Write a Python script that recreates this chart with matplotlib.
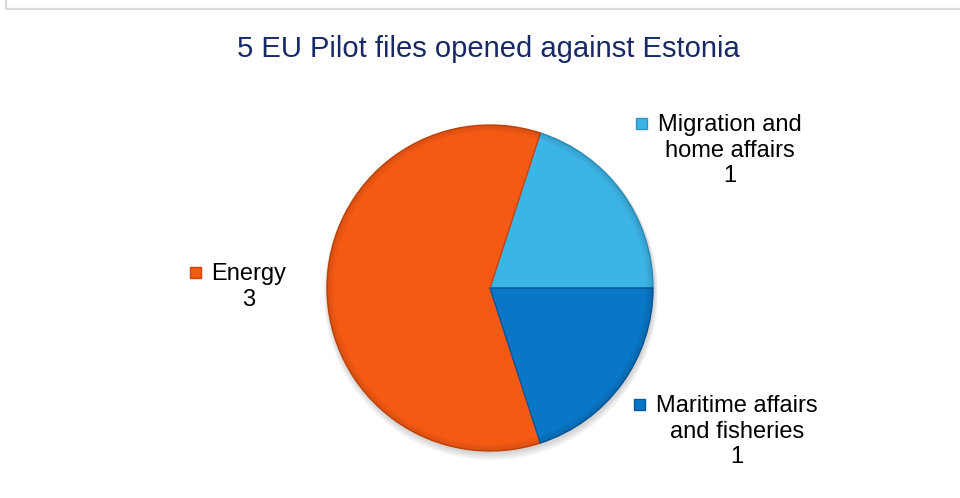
import matplotlib.pyplot as plt
from matplotlib.patches import Rectangle, Circle, Wedge

plt.rcParams['font.family'] = ['Liberation Sans', 'DejaVu Sans']

# data (drawn counter-clockwise from 3 o'clock)
categories = ["Migration and home affairs", "Energy", "Maritime affairs and fisheries"]
values = [1, 3, 1]
colors = ["#3db4e6", "#f55a14", "#0a76c6"]
edge_colors = ["#2a94c4", "#c8460c", "#07599a"]
# how each label wraps
label_lines = [["Migration and", "home affairs"], ["Energy"], ["Maritime affairs", "and fisheries"]]
title = "5 EU Pilot files opened against Estonia"

W, H = 960, 498
fig = plt.figure(figsize=(W / 100, H / 100), dpi=100)
ax = fig.add_axes([0, 0, 1, 1])

def iy(y):
    # image row -> data y
    return H - y

# chart frame (only top/left visible)
ax.plot([5.5, 5.5, W + 5], [H + 5, iy(8.5), iy(8.5)], color="#d9d9d9", lw=1.6,
        solid_capstyle='butt')

cx, cy, r = 490, iy(288), 163

# soft shadow
for k in range(4):
    ax.add_patch(Circle((cx + 1, cy - 2 - k), r + 1 + k, color="black", alpha=0.045,
                        lw=0, zorder=1))

wedges, _ = ax.pie(values, colors=colors, startangle=0, counterclock=True,
                   center=(cx, cy), radius=r, frame=True,
                   wedgeprops=dict(linewidth=1.0))
for w, ec in zip(wedges, edge_colors):
    w.set_edgecolor(ec)
    w.set_zorder(2)

# bevel: darken towards the rim
for k in range(7):
    ax.add_patch(Wedge((cx, cy), r - k, 0, 360, width=1.0, facecolor="black",
                       alpha=0.11 * (1 - k / 7), lw=0, zorder=3))

ax.set_xlim(0, W)
ax.set_ylim(0, H)
ax.axis('off')

ax.text(488, iy(57), title, ha='center', va='baseline', fontsize=21, color="#172a66")

# data labels: (centre x, first baseline) in image pixels
label_pos = [(730, 131), (249, 280), (737, 412)]
fs = 17
step = 25.5
for lines, v, col, ec, (x, y0) in zip(label_lines, values, colors, edge_colors, label_pos):
    allines = lines + [str(v)]
    first = None
    for i, ln in enumerate(allines):
        t = ax.text(x, iy(y0 + i * step), ln, ha='center', va='baseline', fontsize=fs,
                    color="black")
        if first is None:
            first = t
    # legend key left of the first line
    fig.canvas.draw()
    bb = first.get_window_extent()
    ax.add_patch(Rectangle((bb.x0 - 22, iy(y0) + 2), 11, 11, facecolor=col,
                           edgecolor=ec, lw=1))

fig.savefig("out.png", dpi=100)
